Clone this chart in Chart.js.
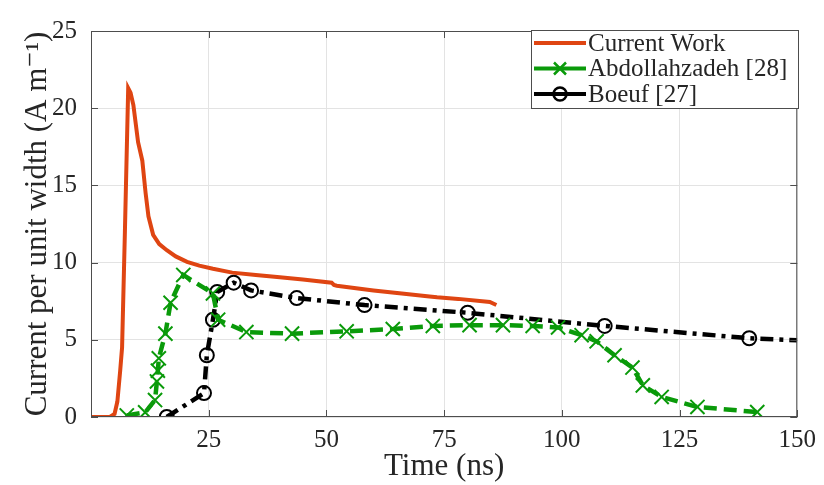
<!DOCTYPE html>
<html>
<head>
<meta charset="utf-8">
<script src="https://cdn.jsdelivr.net/npm/chart.js@4.4.0/dist/chart.umd.min.js"></script>
<style>
  html, body { margin: 0; padding: 0; background: #fff; }
  #wrap { width: 824px; height: 485px; }
</style>
</head>
<body>
<div id="wrap"><canvas id="chartCurrent"></canvas></div>
<script>
// Current Work (simulation)
const workTime = [0, 4, 5, 5.6, 6.2, 6.6, 7.2, 7.9, 8.4, 9.0, 10.0, 10.9, 11.6, 12.2, 13.2, 14.5, 16.1, 18.0, 20.4, 23.0, 25.9, 30.0, 35.0, 40.1, 45.0, 51.1, 51.6, 52.2, 60.0, 66.0, 71.9, 73.5, 78.0, 84.7, 86.1];
const workCurrent = [0, 0, 0.2, 1.0, 3.0, 4.5, 12.0, 21.3, 21.0, 20.2, 17.8, 16.6, 14.5, 13.0, 11.8, 11.2, 10.8, 10.4, 10.05, 9.8, 9.6, 9.35, 9.2, 9.05, 8.9, 8.7, 8.55, 8.5, 8.2, 8.0, 7.8, 7.75, 7.65, 7.45, 7.25];

// Abdollahzadeh [28]
const abdTime = [7.6, 11.5, 13.6, 14.0, 14.2, 14.4, 15.8, 16.9, 19.6, 25.9, 27.0, 33.0, 42.7, 54.3, 64.1, 72.6, 80.4, 87.5, 93.8, 99.2, 104.2, 107.4, 111.2, 115.0, 117.2, 121.2, 128.8, 141.5];
const abdCurrent = [0.1, 0.3, 1.1, 2.3, 3.0, 3.8, 5.4, 7.4, 9.2, 8.0, 6.3, 5.5, 5.4, 5.55, 5.7, 5.9, 5.95, 5.95, 5.9, 5.8, 5.3, 4.9, 4.0, 3.2, 2.05, 1.3, 0.65, 0.32];

// Boeuf [27]
const boeufTime = [16.1, 24.0, 24.6, 25.9, 26.8, 30.3, 34.0, 43.7, 58.1, 80.0, 109.1, 139.8, 150];
const boeufCurrent = [0.0, 1.55, 4.0, 6.3, 8.1, 8.7, 8.2, 7.7, 7.25, 6.75, 5.9, 5.1, 4.97];

const xTicks = [0, 25, 50, 75, 100, 125, 150];
const yTicks = [0, 5, 10, 15, 20, 25];

const toPoints = (xs, ys) => xs.map((x, i) => ({ x: x, y: ys[i] }));

const serif = "'Liberation Serif', 'DejaVu Serif', serif";
const ink = "#262626";

// boxed axes with inward tick marks, like a MATLAB figure
const framePlugin = {
  id: "frame",
  afterDatasetsDraw(chart) {
    const { ctx, chartArea: a, scales } = chart;
    ctx.save();
    ctx.strokeStyle = "#4d4d4d";
    ctx.lineWidth = 1;
    ctx.strokeRect(a.left + 0.5, a.top + 0.5, a.width - 1, a.height - 1);
    ctx.beginPath();
    xTicks.forEach((v) => {
      const px = Math.round(scales.x.getPixelForValue(v)) + 0.5;
      ctx.moveTo(px, a.bottom); ctx.lineTo(px, a.bottom - 7);
      ctx.moveTo(px, a.top); ctx.lineTo(px, a.top + 7);
    });
    yTicks.forEach((v) => {
      const py = Math.round(scales.y.getPixelForValue(v)) + 0.5;
      ctx.moveTo(a.left, py); ctx.lineTo(a.left + 7, py);
      ctx.moveTo(a.right, py); ctx.lineTo(a.right - 7, py);
    });
    ctx.stroke();
    ctx.restore();
  },
};

// legend box in the upper right corner
const legendPlugin = {
  id: "boxLegend",
  afterDraw(chart) {
    const { ctx } = chart;
    const left = 531, top = 30, width = 267, height = 78;
    ctx.save();
    ctx.fillStyle = "#fff";
    ctx.fillRect(left, top, width, height);
    ctx.strokeStyle = "#4d4d4d";
    ctx.lineWidth = 1;
    ctx.strokeRect(left + 0.5, top + 0.5, width, height);
    ctx.font = "25px " + serif;
    ctx.textBaseline = "middle";
    chart.data.datasets.forEach((ds, i) => {
      const y = top + 13 + i * 25.5;
      ctx.strokeStyle = ds.borderColor;
      ctx.lineWidth = 4;
      ctx.setLineDash([]);
      ctx.beginPath();
      ctx.moveTo(left + 3, y);
      ctx.lineTo(left + 55, y);
      ctx.stroke();
      const cx = left + 29;
      ctx.lineWidth = 2.5;
      if (ds.pointStyle === "crossRot") {
        ctx.strokeStyle = ds.pointBorderColor;
        ctx.beginPath();
        ctx.moveTo(cx - 6, y - 6); ctx.lineTo(cx + 6, y + 6);
        ctx.moveTo(cx - 6, y + 6); ctx.lineTo(cx + 6, y - 6);
        ctx.stroke();
      } else if (ds.pointStyle === "circle") {
        ctx.strokeStyle = ds.pointBorderColor;
        ctx.beginPath();
        ctx.arc(cx, y, 6.5, 0, Math.PI * 2);
        ctx.stroke();
      }
      ctx.fillStyle = ink;
      ctx.fillText(ds.label, left + 57, y + 1);
    });
    ctx.restore();
  },
};

const boeufRadius = boeufTime.map((t, i) => (i === boeufTime.length - 1 ? 0 : 7));

new Chart(document.getElementById("chartCurrent"), {
  type: "line",
  data: {
    datasets: [
      {
        label: "Current Work",
        data: toPoints(workTime, workCurrent),
        borderColor: "#DF4512",
        borderWidth: 4,
        pointRadius: 0,
        pointStyle: false,
        tension: 0,
      },
      {
        label: "Abdollahzadeh [28]",
        data: toPoints(abdTime, abdCurrent),
        borderColor: "#0A9A0A",
        borderWidth: 4.5,
        borderDash: [13, 7],
        pointStyle: "crossRot",
        pointRadius: 10,
        pointBorderWidth: 2,
        pointBorderColor: "#0A9A0A",
        tension: 0,
      },
      {
        label: "Boeuf [27]",
        data: toPoints(boeufTime, boeufCurrent),
        borderColor: "#000000",
        borderWidth: 4.5,
        borderDash: [13, 6, 4, 6],
        pointStyle: "circle",
        pointRadius: boeufRadius,
        pointBorderWidth: 2,
        pointBorderColor: "#000000",
        pointBackgroundColor: "rgba(0,0,0,0)",
        tension: 0,
      },
    ],
  },
  plugins: [framePlugin, legendPlugin],
  options: {
    responsive: true,
    maintainAspectRatio: false,
    animation: false,
    layout: { padding: { top: 31, right: 26, left: 0, bottom: 0 } },
    plugins: {
      legend: { display: false },
      tooltip: { enabled: false },
    },
    scales: {
      x: {
        type: "linear",
        min: 0,
        max: 150,
        afterBuildTicks: (scale) => { scale.ticks = xTicks.map((v) => ({ value: v })); },
        afterFit: (scale) => { scale.height = 68; },
        border: { display: false },
        grid: { color: "#e3e3e3", lineWidth: 1, drawTicks: false },
        ticks: {
          color: ink,
          padding: 8,
          font: { family: serif, size: 25 },
          callback: (v) => (v === 0 ? "" : v),
        },
        title: {
          display: true,
          text: "Time (ns)",
          color: ink,
          font: { family: serif, size: 31 },
          padding: { top: 0, bottom: 0 },
        },
      },
      y: {
        type: "linear",
        min: 0,
        max: 25,
        afterBuildTicks: (scale) => { scale.ticks = yTicks.map((v) => ({ value: v })); },
        afterFit: (scale) => { scale.width = 91; },
        border: { display: false },
        grid: { color: "#e3e3e3", lineWidth: 1, drawTicks: false },
        ticks: {
          color: ink,
          padding: 14,
          font: { family: serif, size: 25 },
        },
        title: {
          display: true,
          text: "Current per unit width (A m\u207B\u00B9)",
          color: ink,
          font: { family: serif, size: 31 },
          padding: { top: 19, bottom: 0 },
        },
      },
    },
  },
});
</script>
</body>
</html>
